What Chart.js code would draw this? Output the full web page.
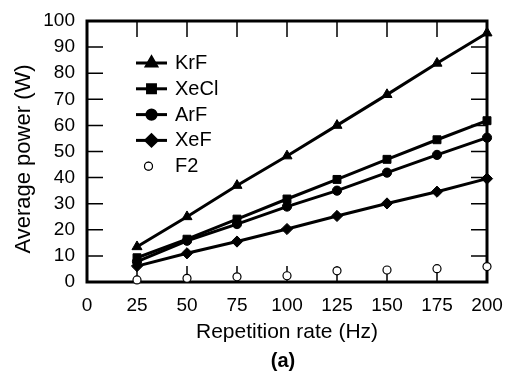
<!DOCTYPE html>
<html lang="en">
  <head>
    <meta charset="UTF-8" />
    <title>Average power vs repetition rate</title>
    <script src="https://cdn.jsdelivr.net/npm/chart.js@4.4.0/dist/chart.umd.min.js"></script>
    <style>
      html, body { margin: 0; padding: 0; background: #fff; }
      #wrap { width: 507px; height: 376px; }
    </style>
  </head>
  <body>
    <div id="wrap"><canvas id="chart" width="507" height="376"></canvas></div>
  <script>
// values
const rates = [25, 50, 75, 100, 125, 150, 175, 200];
const krf  = [13.5, 25, 37, 48.3, 60, 71.8, 83.8, 95.4];
const xecl = [9.3, 16.4, 24.1, 31.8, 39.3, 47, 54.5, 61.8];
const arf  = [7.8, 15.8, 22.2, 28.9, 35, 41.9, 48.7, 55.3];
const xef  = [6.1, 11, 15.5, 20.3, 25.3, 30.1, 34.6, 39.6];
const f2   = [0.8, 1.4, 2, 2.4, 4.3, 4.6, 5.1, 5.9];
const xTicks = [0, 25, 50, 75, 100, 125, 150, 175, 200];
const yTicks = [0, 10, 20, 30, 40, 50, 60, 70, 80, 90, 100];

const FONT = 'Liberation Sans, Arial, Helvetica, sans-serif';

function pts(ys) {
  return rates.map((r, i) => ({ x: r, y: ys[i] }));
}

function series(label, ys, style, radius, line) {
  return {
    label: label,
    data: pts(ys),
    showLine: line,
    borderColor: '#000',
    backgroundColor: '#000',
    borderWidth: 3,
    pointStyle: style,
    pointRadius: radius,
    pointBorderWidth: 1,
    pointBackgroundColor: '#000',
    pointBorderColor: '#000',
    clip: false
  };
}

const datasets = [
  series('KrF', krf, 'triangle', 5.8, true),
  series('XeCl', xecl, 'rect', 5.6, true),
  series('ArF', arf, 'circle', 4.6, true),
  series('XeF', xef, 'rectRot', 5.6, true),
  series('F2', f2, 'circle', 4, false)
];
datasets[4].pointBackgroundColor = '#fff';
datasets[4].pointBorderWidth = 1.2;

// box, inward ticks on all four sides, y title and panel letter
const frame = {
  id: 'frame',
  beforeDatasetsDraw(chart) {
    const { ctx, chartArea: a, scales } = chart;
    const len = 16;
    ctx.save();
    ctx.strokeStyle = '#000';
    ctx.lineWidth = 1.5;
    ctx.beginPath();
    xTicks.forEach(v => {
      const px = scales.x.getPixelForValue(v);
      ctx.moveTo(px, a.bottom); ctx.lineTo(px, a.bottom - len);
      ctx.moveTo(px, a.top); ctx.lineTo(px, a.top + len);
    });
    yTicks.forEach(v => {
      const py = scales.y.getPixelForValue(v);
      ctx.moveTo(a.left, py); ctx.lineTo(a.left + len, py);
      ctx.moveTo(a.right, py); ctx.lineTo(a.right - len, py);
    });
    ctx.stroke();
    ctx.lineWidth = 3;
    ctx.strokeRect(a.left, a.top, a.right - a.left, a.bottom - a.top);
    ctx.restore();
  },
  afterDraw(chart) {
    const { ctx } = chart;
    ctx.save();
    ctx.fillStyle = '#000';
    ctx.textAlign = 'center';
    ctx.textBaseline = 'middle';
    ctx.font = 'bold 20px ' + FONT;
    ctx.fillText('(a)', 283, 361);
    ctx.translate(24, 159);
    ctx.rotate(-Math.PI / 2);
    ctx.font = '22px ' + FONT;
    ctx.fillText('Average power (W)', 0, 0);
    ctx.restore();
  }
};

// legend in the upper left of the plot
const innerLegend = {
  id: 'innerLegend',
  afterDatasetsDraw(chart) {
    const { ctx, chartArea: a } = chart;
    const x0 = a.left + 49, x1 = a.left + 80, tx = a.left + 88;
    const y0 = a.top + 42, step = 25.8;
    ctx.save();
    ctx.font = '20px ' + FONT;
    ctx.textBaseline = 'middle';
    ctx.fillStyle = '#000';
    chart.data.datasets.forEach((ds, i) => {
      const y = y0 + i * step;
      let mx = (x0 + x1) / 2;
      if (ds.showLine) {
        ctx.strokeStyle = '#000';
        ctx.lineWidth = ds.borderWidth;
        ctx.beginPath();
        ctx.moveTo(x0, y); ctx.lineTo(x1, y);
        ctx.stroke();
      } else {
        mx -= 3;
      }
      Chart.helpers.drawPoint(ctx, {
        pointStyle: ds.pointStyle,
        radius: ds.pointRadius,
        borderWidth: ds.pointBorderWidth,
        rotation: 0
      }, mx, y);
      ctx.fillStyle = ds.pointBackgroundColor;
      ctx.strokeStyle = '#000';
      ctx.lineWidth = ds.pointBorderWidth;
      ctx.fill();
      ctx.stroke();
      ctx.fillStyle = '#000';
      ctx.fillText(ds.label, tx, y + 0.5);
    });
    ctx.restore();
  }
};

new Chart(document.getElementById('chart'), {
  type: 'scatter',
  data: { datasets: datasets },
  options: {
    responsive: false,
    animation: false,
    layout: { padding: { left: 0, right: 20, top: 21, bottom: 31 } },
    plugins: { legend: { display: false }, tooltip: { enabled: false } },
    scales: {
      x: {
        type: 'linear',
        min: 0, max: 200,
        afterBuildTicks: s => { s.ticks = xTicks.map(v => ({ value: v })); },
        afterFit: s => { s.height = 63; s.paddingLeft = 0; s.paddingRight = 0; },
        grid: { display: false, drawTicks: false },
        border: { display: false },
        ticks: { color: '#000', font: { family: FONT, size: 19 }, padding: 12, maxRotation: 0 },
        title: {
          display: true, text: 'Repetition rate (Hz)', color: '#000',
          font: { family: FONT, size: 21 }, padding: { top: 0, bottom: 0 }
        }
      },
      y: {
        type: 'linear',
        min: 0, max: 100,
        afterBuildTicks: s => { s.ticks = yTicks.map(v => ({ value: v })); },
        afterFit: s => { s.width = 87; s.paddingTop = 0; s.paddingBottom = 0; },
        grid: { display: false, drawTicks: false },
        border: { display: false },
        ticks: { color: '#000', font: { family: FONT, size: 19 }, padding: 12 }
      }
    }
  },
  plugins: [frame, innerLegend]
});
  </script>
  </body>
</html>
